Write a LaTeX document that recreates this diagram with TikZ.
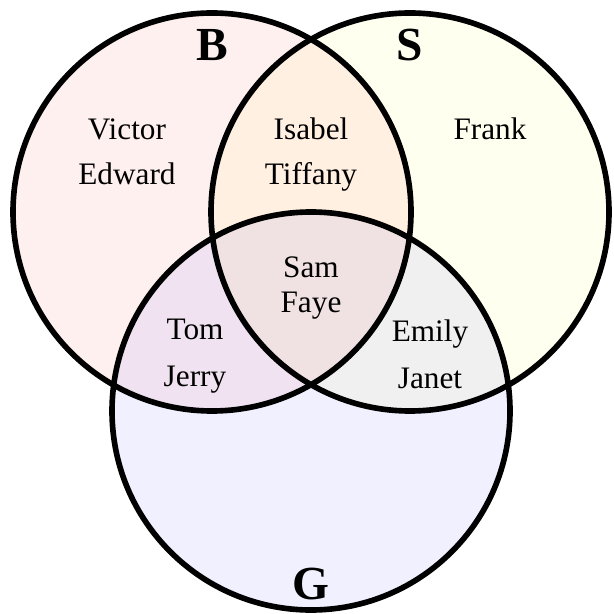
\documentclass[tikz,border=0pt]{standalone}
\usepackage{fontspec}
\setmainfont{Liberation Serif}
\usetikzlibrary{positioning}
\definecolor{fillB}{RGB}{255,240,240}
\definecolor{fillS}{RGB}{255,255,240}
\definecolor{fillG}{RGB}{240,240,255}
\definecolor{fillBS}{RGB}{255,240,226}
\definecolor{fillBG}{RGB}{240,226,240}
\definecolor{fillSG}{RGB}{240,240,240}
\definecolor{fillBSG}{RGB}{240,226,226}

\begin{document}
\begin{tikzpicture}[
    x=0.02cm, y=-0.02cm,
    member/.style={font=\fontsize{17.8}{#1}\selectfont, align=center},
    member/.default={25.6},
    setlabel/.style={font=\fontsize{27}{30}\selectfont\bfseries},
    ring/.style={line width=3.2pt},
]
    \useasboundingbox (0,0) rectangle (614,614);

    % Circle centres
    \coordinate (cB) at (212,212);
    \coordinate (cS) at (410,212);
    \coordinate (cG) at (311,411);

    % Single sets
    \fill[fillB] (cB) circle[radius=199];
    \fill[fillS] (cS) circle[radius=199];
    \fill[fillG] (cG) circle[radius=199];

    % S and G
    \begin{scope}
        \clip (cS) circle[radius=199];
        \fill[fillSG] (cG) circle[radius=199];
    \end{scope}

    % B with S, B with G, all three
    \begin{scope}
        \clip (cB) circle[radius=199];
        \fill[fillBS] (cS) circle[radius=199];
        \fill[fillBG] (cG) circle[radius=199];
        \clip (cS) circle[radius=199];
        \fill[fillBSG] (cG) circle[radius=199];
    \end{scope}

    % Outlines
    \draw[ring] (cB) circle[radius=199];
    \draw[ring] (cS) circle[radius=199];
    \draw[ring] (cG) circle[radius=199];

    % Set labels
    \node[setlabel] (lB) at (212,45) {B};
    \node[setlabel] (lS) at (410,45) {S};
    \node[setlabel] (lG) at (311,584) {G};

    % Members
    \node[member] (onlyB) at (127,152) {Victor\\Edward};
    \node[member] (onlyS) at (490,129) {Frank};
    \node[member] (BS) at (311,155) {Isabel\\Tiffany};
    \node[member=19.4] (BSG) at (311,288) {Sam\\Faye};
    \node[member=26.7] (BG) at (195,356) {Tom\\Jerry};
    \node[member=26.7] (SG) at (430,354) {Emily\\Janet};
\end{tikzpicture}
\end{document}
